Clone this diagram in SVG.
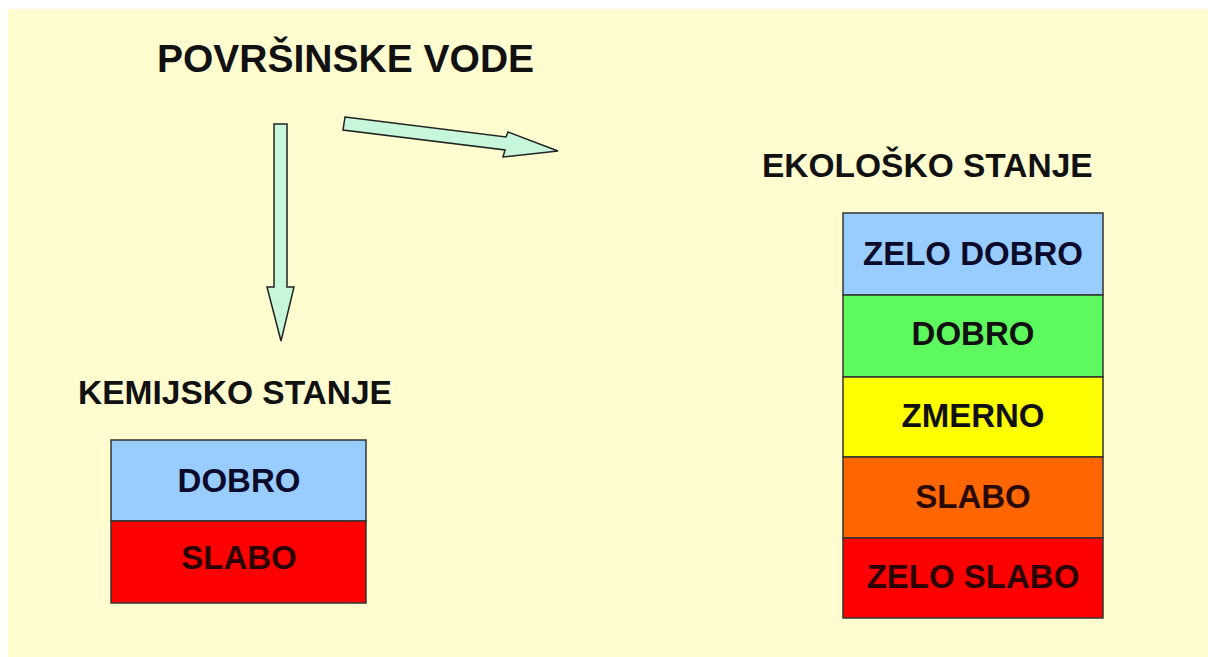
<svg xmlns="http://www.w3.org/2000/svg" width="1208" height="657" viewBox="0 0 1208 657">
<style>
text{font-family:"Liberation Sans",Arial,sans-serif;font-weight:bold;fill:#111}
.h{font-size:33.5px}
.c{font-size:33px;text-anchor:middle}
.cell{stroke:#333;stroke-width:1.5}
.arr{fill:#C6F7DA;stroke:#222;stroke-width:1.5;stroke-linejoin:miter}
</style>
<rect x="0" y="0" width="1208" height="657" fill="#fff"/>
<rect x="8" y="9" width="1200" height="648" fill="#FFFDD0"/>
<g id="title"><text x="157" y="72" style="font-size:39px">POVRŠINSKE VODE</text></g>
<g id="connectors">
<path class="arr" d="M274,124 L287,124 L287,287 L294,287 L281,341 L267,287 L274,287 Z"/>
<path class="arr" d="M345,117 L506,137 L508,132 L558,151 L503,157 L505,150 L343,130 Z"/>
</g>
<g id="kemijsko">
<text class="h" x="78" y="404">KEMIJSKO STANJE</text>
<rect class="cell" x="111" y="440" width="255" height="81" fill="#99CCFF"/>
<rect class="cell" x="111" y="521" width="255" height="82" fill="#FF0000"/>
<text class="c" x="239" y="492" style="fill:#0a0a2a">DOBRO</text>
<text class="c" x="239" y="569" style="fill:#2a0000">SLABO</text>
</g>
<g id="ekolosko">
<text class="h" x="762" y="177">EKOLOŠKO STANJE</text>
<rect class="cell" x="843" y="213" width="260" height="82" fill="#99CCFF"/>
<rect class="cell" x="843" y="295" width="260" height="82" fill="#5EF95E"/>
<rect class="cell" x="843" y="377" width="260" height="80" fill="#FFFF00"/>
<rect class="cell" x="843" y="457" width="260" height="81" fill="#FF6600"/>
<rect class="cell" x="843" y="538" width="260" height="80" fill="#FF0000"/>
<text class="c" x="973" y="265" style="fill:#0a0a2a">ZELO DOBRO</text>
<text class="c" x="973" y="345">DOBRO</text>
<text class="c" x="973" y="427">ZMERNO</text>
<text class="c" x="973" y="508" style="fill:#2a0a00">SLABO</text>
<text class="c" x="973" y="588" style="fill:#2a0000">ZELO SLABO</text>
</g>
</svg>
